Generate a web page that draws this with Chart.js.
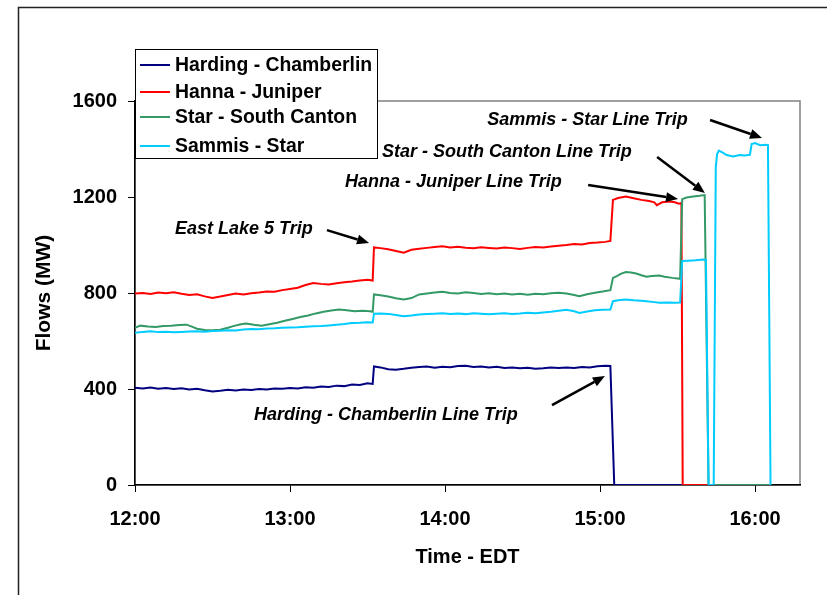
<!DOCTYPE html>
<html>
<head>
<meta charset="utf-8">
<script src="https://cdn.jsdelivr.net/npm/chart.js@4.4.1/dist/chart.umd.min.js"></script>
<style>
  html, body { margin: 0; padding: 0; background: #fff; }
  #wrap { width: 827px; height: 595px; }
</style>
</head>
<body>
<div id="wrap"><canvas id="flowChart" width="827" height="595"></canvas></div>
<script>
// Line flows around the afternoon trips (minutes after 12:00, MW)

const seriesNames = ['Harding - Chamberlin', 'Hanna - Juniper', 'Star - South Canton', 'Sammis - Star'];
const seriesColors = ['#000080', '#ff0000', '#339966', '#00ccff'];

const hcTimes = [0, 3, 6, 9, 12, 15, 18, 21, 24, 27, 30, 33, 36, 39, 42, 45, 48, 51, 54, 57, 60, 63, 66, 69, 72, 75, 78, 81, 84, 87, 90, 92,
  92.5, 95, 98, 101, 104, 107, 110, 113, 116, 119, 122, 125, 128, 131, 134, 137, 140, 143, 146, 149, 152, 155, 158, 161, 164, 167, 170, 173, 176, 179, 182, 184,
  185.5, 245.7];
const hcFlows = [405, 402, 406, 401, 404, 400, 403, 398, 401, 395, 390, 393, 397, 394, 398, 396, 400, 398, 402, 401, 404, 402, 407, 405, 410, 408, 414, 412, 419, 417, 424, 421,
  494, 490, 482, 480, 484, 489, 492, 494, 489, 493, 491, 496, 497, 492, 494, 490, 493, 488, 490, 486, 489, 484, 486, 490, 487, 490, 488, 492, 490, 495, 497, 496,
  0, 0];

const hjTimes = [0, 3, 6, 9, 12, 15, 18, 21, 24, 27, 30, 33, 36, 39, 42, 45, 48, 51, 54, 57, 60, 63, 66, 69, 72, 75, 78, 81, 84, 87, 90, 92,
  92.5, 95, 98, 101, 104, 107, 110, 113, 116, 119, 122, 125, 128, 131, 134, 137, 140, 143, 146, 149, 152, 155, 158, 161, 164, 167, 170, 173, 176, 179, 182, 184,
  185, 187, 190, 193, 196, 199, 201, 202, 204, 207, 209, 210.5, 211.5, 212, 245.7];
const hjFlows = [798, 800, 796, 802, 799, 803, 797, 792, 795, 786, 779, 785, 792, 798, 794, 799, 802, 806, 805, 812, 817, 822, 833, 842, 838, 835, 841, 845, 848, 852, 855, 852,
  990, 987, 982, 975, 968, 980, 984, 988, 992, 995, 990, 993, 989, 986, 991, 988, 985, 990, 987, 983, 988, 992, 990, 994, 997, 1000, 1004, 1002, 1008, 1010, 1013, 1017,
  1188, 1196, 1202, 1195, 1188, 1183, 1178, 1166, 1178, 1181, 1178, 1172, 1175, 0, 0];

const sscTimes = [0, 2, 5, 8, 11, 14, 17, 20, 22, 24, 27, 30, 33, 36, 38, 41, 43, 46, 49, 52, 55, 58, 61, 64, 67, 70, 73, 76, 79, 82, 85, 88, 91, 92,
  92.5, 95, 98, 101, 104, 107, 110, 113, 116, 119, 122, 125, 128, 131, 134, 137, 140, 143, 146, 149, 152, 155, 158, 161, 164, 167, 170, 172, 175, 178, 181, 184,
  185, 186.5, 188, 190, 192, 194, 196, 198, 200, 203, 205, 208, 211,
  211.8, 213.5, 216, 218.5, 220.5, 222, 245.7];
const sscFlows = [655, 664, 660, 658, 662, 664, 667, 668, 660, 651, 646, 645, 647, 655, 662, 670, 673, 668, 664, 670, 676, 684, 692, 700, 706, 715, 722, 727, 731, 728, 724, 726, 724, 722,
  794, 791, 785, 778, 773, 779, 794, 798, 802, 805, 800, 798, 803, 800, 796, 799, 795, 798, 794, 797, 793, 797, 795, 799, 801, 798, 792, 787, 795, 801, 806, 812,
  863, 870, 880, 887, 885, 881, 874, 868, 871, 873, 868, 863, 859,
  1191, 1198, 1202, 1205, 1208, 0, 0];

const ssTimes = [0, 3, 6, 9, 12, 15, 18, 21, 24, 27, 30, 33, 36, 39, 42, 45, 48, 51, 54, 57, 60, 63, 66, 69, 72, 75, 78, 81, 84, 87, 90, 92,
  92.5, 95, 98, 101, 104, 107, 110, 113, 116, 119, 122, 125, 128, 131, 134, 137, 140, 143, 146, 149, 152, 155, 158, 161, 164, 167, 170, 172, 175, 178, 181, 184,
  185, 187, 190, 193, 196, 198, 201, 203, 206, 209, 211,
  211.8, 214, 217, 220, 221, 222, 224,
  224.8, 225.3, 226, 227.5, 229, 231.5, 234, 236, 238, 238.7, 240, 242, 244, 245, 246];
const ssFlows = [634, 638, 641, 637, 639, 636, 638, 640, 641, 639, 642, 643, 645, 644, 648, 650, 649, 652, 653, 655, 656, 657, 659, 661, 662, 665, 668, 671, 675, 676, 678, 677,
  714, 715, 713, 708, 703, 706, 710, 712, 714, 716, 713, 715, 712, 716, 714, 711, 714, 716, 713, 715, 718, 716, 719, 722, 726, 730, 724, 717, 723, 728, 730, 731,
  766, 770, 773, 770, 768, 766, 762, 759, 760, 759, 760,
  933, 934, 936, 940, 938, 0, 0,
  1323, 1379, 1393, 1385, 1375, 1369, 1375, 1373, 1376, 1421, 1425, 1416, 1418, 1416, 0];

const xTickMinutes = [0, 60, 120, 180, 240];
const xTickLabels = ['12:00', '13:00', '14:00', '15:00', '16:00'];
const yTicks = [0, 400, 800, 1200, 1600];

// event labels: text at (minutes, MW), arrow from/to in the same units
const eventLabels = ['East Lake 5 Trip', 'Harding - Chamberlin Line Trip', 'Hanna - Juniper Line Trip',
  'Star - South Canton Line Trip', 'Sammis - Star Line Trip'];
const eventText = [[15.5, 1067], [46.1, 292], [81.3, 1262], [95.6, 1387], [136.3, 1521]];
const eventArrowFrom = [[74.3, 1062], [161.4, 333], [175.4, 1250], [202.1, 1367], [222.6, 1521]];
const eventArrowTo = [[90.6, 1008], [181.9, 454], [210.2, 1192], [220.6, 1217], [242.7, 1446]];

const FONT = "'Liberation Sans', Arial, sans-serif";

function toPoints(times, flows) {
  return times.map((t, i) => ({ x: t, y: flows[i] }));
}

const pageFrame = {
  id: 'pageFrame',
  beforeDraw(chart) {
    const ctx = chart.ctx;
    ctx.save();
    ctx.fillStyle = '#fff';
    ctx.fillRect(0, 0, chart.width, chart.height);
    ctx.strokeStyle = '#222';
    ctx.lineWidth = 1.5;
    ctx.strokeRect(18.5, 7.5, chart.width + 20, chart.height + 20);
    const a = chart.chartArea;
    ctx.strokeStyle = '#808080';
    ctx.lineWidth = 1.5;
    ctx.strokeRect(a.left, a.top, a.right - a.left, a.bottom - a.top);
    ctx.restore();
  }
};

function arrow(ctx, x1, y1, x2, y2) {
  const ang = Math.atan2(y2 - y1, x2 - x1);
  const head = 12, half = 5;
  const bx = x2 - head * Math.cos(ang), by = y2 - head * Math.sin(ang);
  ctx.beginPath();
  ctx.moveTo(x1, y1);
  ctx.lineTo(bx, by);
  ctx.stroke();
  ctx.beginPath();
  ctx.moveTo(x2, y2);
  ctx.lineTo(bx + half * Math.sin(ang), by - half * Math.cos(ang));
  ctx.lineTo(bx - half * Math.sin(ang), by + half * Math.cos(ang));
  ctx.closePath();
  ctx.fill();
}

const eventNotes = {
  id: 'eventNotes',
  afterDraw(chart) {
    const ctx = chart.ctx;
    const xs = chart.scales.x, ys = chart.scales.y;
    ctx.save();
    ctx.fillStyle = '#000';
    ctx.strokeStyle = '#000';
    ctx.lineWidth = 2.5;
    ctx.font = 'italic bold 18px ' + FONT;
    ctx.textAlign = 'left';
    ctx.textBaseline = 'middle';
    eventLabels.forEach((txt, i) => {
      ctx.fillText(txt, xs.getPixelForValue(eventText[i][0]), ys.getPixelForValue(eventText[i][1]));
      arrow(ctx,
        xs.getPixelForValue(eventArrowFrom[i][0]), ys.getPixelForValue(eventArrowFrom[i][1]),
        xs.getPixelForValue(eventArrowTo[i][0]), ys.getPixelForValue(eventArrowTo[i][1]));
    });

    // legend box sitting over the top-left of the plot
    const a = chart.chartArea;
    const left = a.left, top = a.top - 52, w = 242, h = 109;
    ctx.fillStyle = '#fff';
    ctx.fillRect(left, top, w, h);
    ctx.strokeStyle = '#000';
    ctx.lineWidth = 1;
    ctx.strokeRect(left + 0.5, top + 0.5, w, h);
    ctx.font = 'bold 19.4px ' + FONT;
    const rows = [16, 43, 68, 97];
    seriesNames.forEach((name, i) => {
      const y = top + rows[i];
      ctx.strokeStyle = seriesColors[i];
      ctx.lineWidth = 2;
      ctx.beginPath();
      ctx.moveTo(left + 5, y);
      ctx.lineTo(left + 35, y);
      ctx.stroke();
      ctx.fillStyle = '#000';
      ctx.fillText(name, left + 40, y + 1);
    });
    ctx.restore();
  }
};

const flowSets = [
  toPoints(hcTimes, hcFlows),
  toPoints(hjTimes, hjFlows),
  toPoints(sscTimes, sscFlows),
  toPoints(ssTimes, ssFlows)
];

new Chart(document.getElementById('flowChart'), {
  type: 'line',
  data: {
    datasets: flowSets.map((pts, i) => ({
      label: seriesNames[i],
      data: pts,
      borderColor: seriesColors[i],
      borderWidth: 2,
      pointRadius: 0,
      tension: 0,
      fill: false,
      order: 3 - i
    }))
  },
  options: {
    responsive: false,
    animation: false,
    layout: { padding: { left: 0, top: 101, right: 27, bottom: 0 } },
    plugins: {
      legend: { display: false },
      tooltip: { enabled: false }
    },
    scales: {
      x: {
        type: 'linear',
        min: 0,
        max: 257.4,
        afterFit(scale) { scale.height = 110; },
        afterBuildTicks(scale) { scale.ticks = xTickMinutes.map(v => ({ value: v })); },
        ticks: {
          color: '#000',
          padding: 15,
          maxRotation: 0,
          font: { family: FONT, size: 20, weight: 'bold' },
          callback: (v) => xTickLabels[xTickMinutes.indexOf(v)]
        },
        grid: { drawOnChartArea: false, drawTicks: true, tickLength: 7, tickColor: '#000' },
        border: { display: true, color: '#000', width: 1.5 },
        title: {
          display: true,
          text: 'Time - EDT',
          color: '#000',
          font: { family: FONT, size: 20, weight: 'bold' },
          padding: { top: 0, bottom: 26 }
        }
      },
      y: {
        min: 0,
        max: 1600,
        afterFit(scale) { scale.width = 135; },
        afterBuildTicks(scale) { scale.ticks = yTicks.map(v => ({ value: v })); },
        ticks: {
          color: '#000',
          padding: 11,
          font: { family: FONT, size: 20, weight: 'bold' },
          callback: (v) => String(v)
        },
        grid: { drawOnChartArea: false, drawTicks: true, tickLength: 7, tickColor: '#000' },
        border: { display: true, color: '#000', width: 1.5 },
        title: {
          display: true,
          text: 'Flows (MW)',
          color: '#000',
          font: { family: FONT, size: 21, weight: 'bold' },
          padding: { top: 32, bottom: 0 }
        }
      }
    }
  },
  plugins: [pageFrame, eventNotes]
});
</script>
</body>
</html>
